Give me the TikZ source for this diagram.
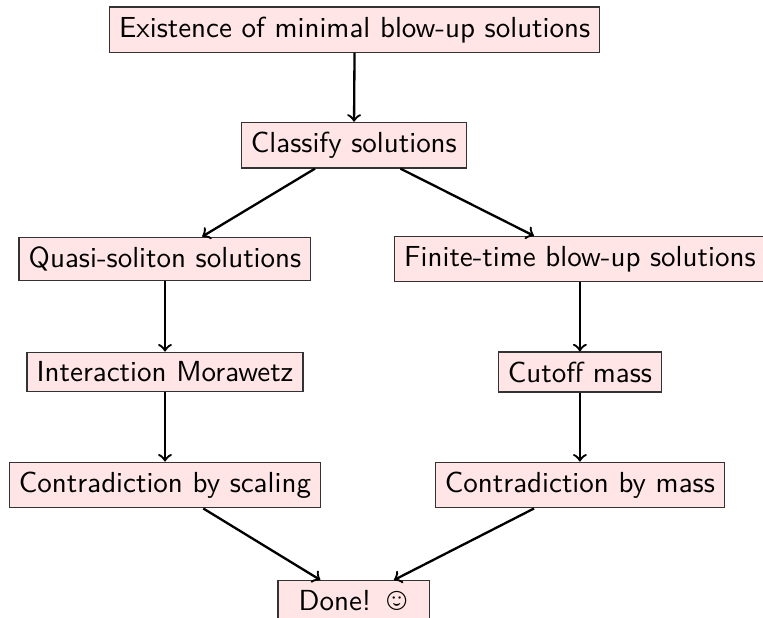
\documentclass[tikz,border=0pt]{standalone}
\usepackage{wasysym}
\usepackage{tikz}
\usetikzlibrary{arrows,shapes,positioning}
\usepackage{xcolor}
\definecolor{stepred}{RGB}{255,229,229}
\tikzstyle{arrow} = [thick,->,>=to]

\begin{document}
\begin{tikzpicture}[
    stepbox/.style={rectangle, draw=black!80, fill=stepred, font=\sffamily}
]
\useasboundingbox (0,0) rectangle (9.25,-7.48);
% Top of the argument
\node[stepbox] (existence) at (4.30,-0.36) {Existence of minimal blow-up solutions};
\node[stepbox] (classify) at (4.29,-1.76) {Classify solutions};

% Left branch
\node[stepbox] (quasi) at (2.0,-3.14) {Quasi-soliton solutions};
\node[stepbox] (morawetz) at (2.0,-4.51) {Interaction Morawetz};
\node[stepbox] (scaling) at (2.0,-5.88) {Contradiction by scaling};

% Right branch
\node[stepbox] (finite) at (7.03,-3.14) {Finite-time blow-up solutions};
\node[stepbox] (cutoff) at (7.03,-4.51) {Cutoff mass};
\node[stepbox] (bymass) at (7.03,-5.88) {Contradiction by mass};

\node[stepbox, minimum width=1.84cm] (done) at (4.29,-7.28) {Done!\hspace{0.5em}\smiley};

\draw[arrow] (existence) -- (classify);
\draw[arrow] (classify) -- (quasi);
\draw[arrow] (classify) -- (finite);
\draw[arrow] (quasi) -- (morawetz);
\draw[arrow] (morawetz) -- (scaling);
\draw[arrow] (finite) -- (cutoff);
\draw[arrow] (cutoff) -- (bymass);
\draw[arrow] (scaling) -- (done);
\draw[arrow] (bymass) -- (done);
\end{tikzpicture}
\end{document}
